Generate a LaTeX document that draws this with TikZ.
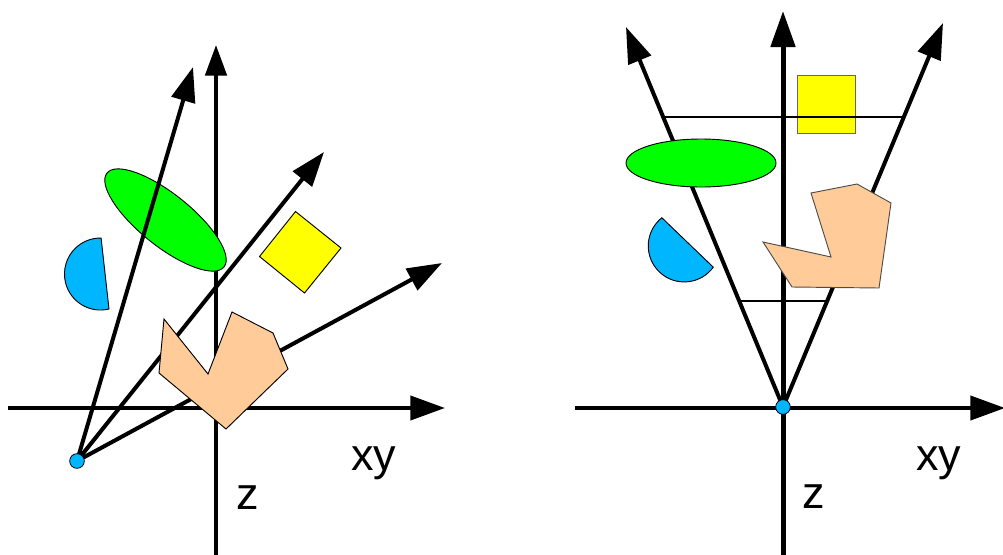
\documentclass[tikz,border=0pt]{standalone}
\usepackage{fontspec}
\setmainfont{Liberation Sans}
\usetikzlibrary{arrows.meta}
\definecolor{skyb}{RGB}{0,183,255}
\definecolor{peach}{RGB}{255,204,153}
\definecolor{lgreen}{RGB}{0,255,0}
\definecolor{lyellow}{RGB}{255,255,0}
\begin{document}
\begin{tikzpicture}[x=0.75pt,y=-0.75pt,
  axis/.style={line width=3pt,-{Triangle[length=26pt,width=18pt]}},
  ray/.style={line width=3pt,-{Triangle[length=26pt,width=18pt]}},
  raynohead/.style={line width=3pt},
  thin/.style={line width=1.5pt},
  shp/.style={draw=black,line width=0.7pt},
  dot/.style={circle,draw=black,line width=0.6pt,fill=skyb,inner sep=0pt,minimum size=11pt},
  lbl/.style={inner sep=0pt,font=\fontsize{33.75}{40}\selectfont}]
\useasboundingbox (0,0) rectangle (1003,554);

% ---------------- left panel ----------------
\coordinate (oL) at (77,461);
\coordinate (hLs) at (8,408);
\coordinate (hLe) at (445,408);
\coordinate (vLs) at (216,556);
\coordinate (vLe) at (216,45);
\coordinate (t1) at (193,67);
\coordinate (t2) at (324,152);
\coordinate (t3) at (442,263);

\draw[axis] (hLs) -- (hLe);
\draw[axis,-{Triangle[length=23pt,width=16pt]}] (vLs) -- (vLe);

% green ellipse (over vertical axis)
\draw[shp,fill=lgreen,rotate around={-38.75:(165.5,220)}] (165.5,220) ellipse[x radius=75,y radius=26];

\draw[ray] (oL) -- (t1);
\draw[ray] (oL) -- (t2);
\draw[ray] (oL) -- (t3);

% blue half disc
\draw[shp,fill=skyb] (109,309) arc[start angle=76.3,end angle=271,radius=36] -- cycle;
% yellow square
\draw[shp,fill=lyellow] (295.5,211.5) -- (341,248) -- (304.5,293) -- (259.5,256.5) -- cycle;
% peach polygon
\draw[shp,fill=peach] (164,319) -- (208,374) -- (232,312) -- (273,333) -- (288,369) -- (226,429) -- (159,373) -- cycle;

\node[dot] (dL) at (oL) {};

\node[lbl,anchor=base west] (xyL) at (351,470) {xy};
\node[lbl,anchor=base west] (zL) at (236,509) {z};

% ---------------- right panel ----------------
\coordinate (oR) at (783,407);
\coordinate (hRs) at (575,408);
\coordinate (hRe) at (1005,408);
\coordinate (vRs) at (783,556);
\coordinate (vRe) at (783,11);
\coordinate (tl) at (626,27);
\coordinate (tr) at (943,23);
\coordinate (a1) at (663,117);
\coordinate (a2) at (904,117);
\coordinate (b1) at (739.5,300.5);
\coordinate (b2) at (827.5,300.5);

\draw[axis] (hRs) -- (hRe);
\draw[axis,line width=3.75pt,-{Triangle[length=27pt,width=18pt]}] (vRs) -- (vRe);
\draw[ray,-{Triangle[length=27pt,width=18pt]}] (oR) -- (tl);
\draw[ray,-{Triangle[length=27pt,width=18pt]}] (oR) -- (tr);

% yellow square
\draw[shp,draw=black!60,fill=lyellow] (797,75) rectangle (855,133);
% horizontal cut lines
\draw[thin] (a1) -- (a2);
\draw[thin] (b1) -- (b2);
% green ellipse
\draw[shp,fill=lgreen] (701,163) ellipse[x radius=75,y radius=24];
% blue half disc
\draw[shp,fill=skyb] (713.3,267.2) arc[start angle=36.2,end angle=231.5,radius=36] -- cycle;
% peach polygon
\draw[shp,draw=black!70,fill=peach] (811,193) -- (857,184) -- (891,203) -- (879,288) -- (792,287) -- (763,242) -- (831,257) -- cycle;

\node[dot] (dR) at (oR) {};

\node[lbl,anchor=base west] (xyR) at (916,470) {xy};
\node[lbl,anchor=base west] (zR) at (802,508) {z};
\end{tikzpicture}
\end{document}
